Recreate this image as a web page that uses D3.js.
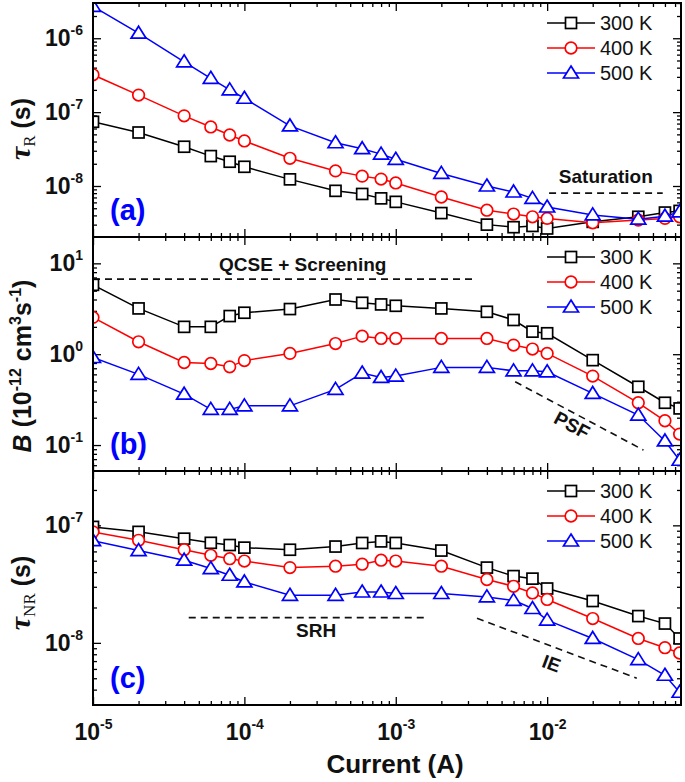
<!DOCTYPE html>
<html lang="en">
<head>
<meta charset="UTF-8">
<title>Lifetimes vs current</title>
<style>
  body { margin: 0; background: #fff; }
  text { font-family: "Liberation Sans", Arial, sans-serif; }
</style>
</head>
<body>
<svg width="685" height="782" id="svg"></svg>
<script src="https://d3js.org/d3.v7.min.js"></script>
<script>
// injection current (A), same for every curve
const current = [1e-5, 2e-5, 4e-5, 6e-5, 8e-5, 1e-4, 2e-4, 4e-4, 6e-4, 8e-4,
                 1e-3, 2e-3, 4e-3, 6e-3, 8e-3, 1e-2, 2e-2, 4e-2, 6e-2, 7.5e-2];
const temps = ["300 K", "400 K", "500 K"];

// (a) radiative lifetime tau_R (s)
const tauR300 = [7.4e-8, 5.3e-8, 3.4e-8, 2.54e-8, 2.13e-8, 1.82e-8, 1.23e-8, 8.6e-9, 7.8e-9, 6.8e-9,
                 6.1e-9, 4.3e-9, 3.0e-9, 2.77e-9, 2.88e-9, 2.66e-9, 3.27e-9, 3.83e-9, 4.37e-9, 4.6e-9];
const tauR400 = [3.2e-7, 1.7e-7, 8.9e-8, 6.3e-8, 4.9e-8, 4.07e-8, 2.37e-8, 1.6e-8, 1.36e-8, 1.24e-8,
                 1.1e-8, 7.1e-9, 4.7e-9, 4.17e-9, 3.83e-9, 3.64e-9, 3.17e-9, 3.46e-9, 3.64e-9, 3.83e-9];
const tauR500 = [2.7e-6, 1.17e-6, 4.8e-7, 2.87e-7, 2.0e-7, 1.54e-7, 6.5e-8, 3.85e-8, 3.2e-8, 2.7e-8,
                 2.3e-8, 1.48e-8, 1.0e-8, 8.3e-9, 6.8e-9, 5.2e-9, 4.06e-9, 3.56e-9, 3.9e-9, 4.46e-9];

// (b) B coefficient (1e-12 cm^3 s^-1)
const B300 = [5.8, 3.19, 2.0, 2.0, 2.63, 2.86, 3.14, 4.0, 3.68, 3.53,
              3.41, 3.19, 2.93, 2.38, 1.77, 1.70, 0.86, 0.438, 0.292, 0.253];
const B400 = [2.54, 1.37, 0.81, 0.79, 0.726, 0.85, 1.02, 1.31, 1.58, 1.49,
              1.49, 1.49, 1.49, 1.26, 1.14, 1.02, 0.574, 0.292, 0.185, 0.132];
const B500 = [0.92, 0.60, 0.363, 0.247, 0.247, 0.27, 0.27, 0.41, 0.62, 0.555,
              0.574, 0.716, 0.716, 0.656, 0.656, 0.64, 0.37, 0.214, 0.111, 0.068];

// (c) non-radiative lifetime tau_NR (s)
const tauNR300 = [9.7e-8, 8.8e-8, 7.7e-8, 7.1e-8, 6.8e-8, 6.46e-8, 6.2e-8, 6.6e-8, 7.08e-8, 7.3e-8,
                  7.08e-8, 6.1e-8, 4.37e-8, 3.7e-8, 3.52e-8, 2.9e-8, 2.27e-8, 1.69e-8, 1.46e-8, 1.09e-8];
const tauNR400 = [8.8e-8, 7.46e-8, 6.2e-8, 5.56e-8, 5.2e-8, 4.97e-8, 4.37e-8, 4.49e-8, 4.67e-8, 5.05e-8,
                  4.97e-8, 4.49e-8, 3.46e-8, 3.03e-8, 2.66e-8, 2.34e-8, 1.61e-8, 1.09e-8, 9.1e-9, 8.2e-9];
const tauNR500 = [7.4e-8, 6.1e-8, 5.05e-8, 4.29e-8, 3.76e-8, 3.3e-8, 2.54e-8, 2.54e-8, 2.71e-8, 2.71e-8,
                  2.63e-8, 2.63e-8, 2.46e-8, 2.3e-8, 1.96e-8, 1.56e-8, 1.09e-8, 7.2e-9, 5.3e-9, 3.8e-9];

// tick values
const xTicks = [1e-5, 1e-4, 1e-3, 1e-2];
const yTicksA = [1e-8, 1e-7, 1e-6];
const yTicksB = [1e-1, 1e0, 1e1];
const yTicksC = [1e-8, 1e-7];

const colors = ["#000000", "#ff0000", "#0000ff"];

var svg = d3.select("svg"),
    left = 93, right = 681,
    width = right - left,
    panelH = 234;

var x = d3.scaleLog().domain([1e-5, 0.0766]).range([0, width]);

var panels = [
  { top: 3, domain: [2.04e-9, 3.0e-6], ticks: yTicksA, series: [tauR300, tauR400, tauR500], label: "(a)",
    lines: [[[1.03e-2, 8e-9], [5.8e-2, 8e-9]]],
    notes: [{ t: "Saturation", at: [2.44e-2, 1.1e-8], line: null }] },
  { top: 237, domain: [0.0518, 19.5], ticks: yTicksB, series: [B300, B400, B500], label: "(b)",
    lines: [[[1e-5, 6.7], [3.44e-3, 6.7]], [[6.15e-3, 0.497], [4.33e-2, 0.088]]],
    notes: [{ t: "QCSE + Screening", at: [2.43e-4, 8.3], line: null },
            { t: "PSF", at: [1.46e-2, 0.166], line: 1 }] },
  { top: 471, domain: [2.96e-9, 2.9e-7], ticks: yTicksC, series: [tauNR300, tauNR400, tauNR500], label: "(c)",
    lines: [[[4.29e-5, 1.64e-8], [1.65e-3, 1.64e-8]], [[3.44e-3, 1.62e-8], [3.91e-2, 5.0e-9]]],
    notes: [{ t: "SRH", at: [2.98e-4, 1.12e-8], line: null },
            { t: "IE", at: [1.07e-2, 6.7e-9], line: 1 }] }
];

function minorTicks(dom) {
  var out = [];
  var lo = Math.floor(Math.log10(dom[0])), hi = Math.ceil(Math.log10(dom[1]));
  for (var e = lo; e <= hi; e++)
    for (var m = 2; m <= 9; m++) {
      var v = m * Math.pow(10, e);
      if (v >= dom[0] && v <= dom[1]) out.push(v);
    }
  return out;
}

// "10" with a superscript exponent
function powLabels(g) {
  g.selectAll(".tick text").each(function (d) {
    var t = d3.select(this);
    t.text(null);
    t.append("tspan").text("10");
    t.append("tspan").attr("dy", -11).attr("font-size", 14).text(Math.round(Math.log10(d)));
  });
}

function marker(sel, i) {
  sel.attr("fill", "#fff").attr("stroke", colors[i]).attr("stroke-width", 1.7);
}

function drawSymbol(g, i, cx, cy) {
  if (i === 0) {
    marker(g.append("rect").attr("x", cx - 5.5).attr("y", cy - 5.5).attr("width", 11).attr("height", 11), i);
  } else if (i === 1) {
    marker(g.append("circle").attr("cx", cx).attr("cy", cy).attr("r", 5.8), i);
  } else {
    marker(g.append("path").attr("d", "M" + cx + "," + (cy - 7) + "L" + (cx + 7.5) + "," + (cy + 5) +
      "L" + (cx - 7.5) + "," + (cy + 5) + "Z"), i);
  }
}

panels.forEach(function (p, pi) {
  var y = d3.scaleLog().domain(p.domain).range([panelH, 0]);
  var g = svg.append("g").attr("transform", "translate(" + left + "," + p.top + ")");

  g.append("clipPath").attr("id", "clip" + pi)
    .append("rect").attr("width", width).attr("height", panelH);

  // ticks, all pointing inward
  var minY = minorTicks(p.domain), minX = minorTicks(x.domain());
  g.append("g").call(d3.axisLeft(y).tickValues(p.ticks).tickSize(-8).tickPadding(10).tickSizeOuter(0))
    .call(powLabels)
    .selectAll("text").attr("font-size", 23).attr("font-weight", "bold").attr("fill", "#111");
  g.append("g").call(d3.axisLeft(y).tickValues(minY).tickSize(-4).tickFormat("").tickSizeOuter(0));
  g.append("g").attr("transform", "translate(" + width + ",0)")
    .call(d3.axisRight(y).tickValues(p.ticks).tickSize(-8).tickFormat("").tickSizeOuter(0));
  g.append("g").attr("transform", "translate(" + width + ",0)")
    .call(d3.axisRight(y).tickValues(minY).tickSize(-4).tickFormat("").tickSizeOuter(0));
  g.append("g").call(d3.axisTop(x).tickValues(xTicks).tickSize(-8).tickFormat("").tickSizeOuter(0));
  g.append("g").call(d3.axisTop(x).tickValues(minX).tickSize(-4).tickFormat("").tickSizeOuter(0));
  g.append("g").attr("transform", "translate(0," + panelH + ")")
    .call(d3.axisBottom(x).tickValues(minX).tickSize(-4).tickFormat("").tickSizeOuter(0));
  var xb = g.append("g").attr("transform", "translate(0," + panelH + ")")
    .call(d3.axisBottom(x).tickValues(xTicks).tickSize(-8).tickSizeOuter(0));
  if (pi === 2) {
    xb.call(powLabels);
    xb.selectAll(".tick text").attr("y", 35).attr("dy", 0)
      .attr("font-size", 23).attr("font-weight", "bold").attr("fill", "#111");
  } else {
    xb.selectAll(".tick text").remove();
  }
  g.selectAll(".domain").remove();
  g.selectAll(".tick line").attr("stroke", "#000").attr("stroke-width", 1.3);

  // dashed guide lines and notes
  p.lines.forEach(function (l) {
    g.append("line")
      .attr("x1", x(l[0][0])).attr("y1", y(l[0][1]))
      .attr("x2", x(l[1][0])).attr("y2", y(l[1][1]))
      .attr("stroke", "#111").attr("stroke-width", 1.6).attr("stroke-dasharray", "7,5");
  });
  p.notes.forEach(function (n) {
    var px = x(n.at[0]), py = y(n.at[1]), ang = 0;
    var t = g.append("text").attr("text-anchor", "middle")
      .attr("font-size", 19).attr("font-weight", "bold").attr("fill", "#111").text(n.t);
    if (n.line !== null) {
      var l = p.lines[n.line];
      ang = Math.atan2(y(l[1][1]) - y(l[0][1]), x(l[1][0]) - x(l[0][0])) * 180 / Math.PI;
      t.attr("dy", "0.35em");
    }
    t.attr("transform", "translate(" + px + "," + py + ") rotate(" + ang + ")");
  });

  // curves
  var line = d3.line().x(function (d) { return x(d[0]); }).y(function (d) { return y(d[1]); });
  var plot = g.append("g").attr("clip-path", "url(#clip" + pi + ")");
  p.series.forEach(function (vals, i) {
    var pts = current.map(function (c, k) { return [c, vals[k]]; });
    plot.append("path").datum(pts).attr("d", line)
      .attr("fill", "none").attr("stroke", colors[i]).attr("stroke-width", 1.5);
    pts.forEach(function (d) { drawSymbol(plot, i, x(d[0]), y(d[1])); });
  });

  // frame
  g.append("rect").attr("width", width).attr("height", panelH)
    .attr("fill", "none").attr("stroke", "#000").attr("stroke-width", 2);

  // legend
  temps.forEach(function (name, i) {
    var ly = 20 + i * 25;
    g.append("line").attr("x1", 454).attr("x2", 502).attr("y1", ly).attr("y2", ly)
      .attr("stroke", colors[i]).attr("stroke-width", 1.5);
    drawSymbol(g, i, 478, ly);
    g.append("text").attr("x", 507).attr("y", ly).attr("dy", "0.35em")
      .attr("font-size", 20).attr("fill", "#111").text(name);
  });

  // panel letter
  g.append("text").attr("x", 17).attr("y", 217)
    .attr("font-size", 29).attr("font-weight", "bold").attr("fill", "#0000ff").text(p.label);
});

// y titles
function serifTau(t, sub) {
  t.append("tspan").attr("font-family", "'Liberation Serif', 'DejaVu Serif', serif")
    .attr("font-style", "italic").attr("font-weight", "bold").attr("font-size", 30).text("τ");
  t.append("tspan").attr("font-family", "'Liberation Serif', 'DejaVu Serif', serif")
    .attr("font-size", 17).attr("dy", 5).text(sub);
  t.append("tspan").attr("font-weight", "bold").attr("font-size", 25).attr("dy", -5).text(" (s)");
}

var tA = svg.append("text").attr("text-anchor", "middle").attr("fill", "#111")
  .attr("transform", "translate(30,129) rotate(-90)");
serifTau(tA, "R");

var tC = svg.append("text").attr("text-anchor", "middle").attr("fill", "#111")
  .attr("transform", "translate(30,593) rotate(-90)");
serifTau(tC, "NR");

var tB = svg.append("text").attr("text-anchor", "middle").attr("fill", "#111")
  .attr("font-weight", "bold").attr("font-size", 25)
  .attr("transform", "translate(31,366) rotate(-90)");
tB.append("tspan").attr("font-style", "italic").text("B");
tB.append("tspan").text(" (10");
tB.append("tspan").attr("font-size", 16).attr("dy", -10).text("-12");
tB.append("tspan").attr("dy", 10).text(" cm");
tB.append("tspan").attr("font-size", 16).attr("dy", -10).text("3");
tB.append("tspan").attr("dy", 10).text("s");
tB.append("tspan").attr("font-size", 16).attr("dy", -10).text("-1");
tB.append("tspan").attr("dy", 10).text(")");

// x title
svg.append("text").attr("x", 395).attr("y", 773).attr("text-anchor", "middle")
  .attr("font-size", 26).attr("font-weight", "bold").attr("fill", "#111").text("Current (A)");
</script>
</body>
</html>
